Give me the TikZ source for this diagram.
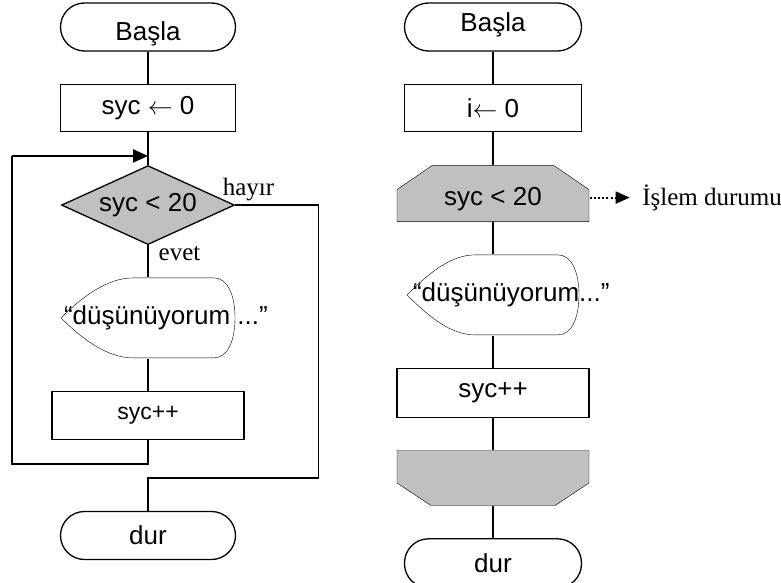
\documentclass[tikz,border=0pt]{standalone}
\usepackage{fontspec}
\setmainfont{Liberation Sans}
\newfontfamily\lblfont{Liberation Serif}
\definecolor{flowGray}{HTML}{C0C0C0}
\usetikzlibrary{shapes.geometric, arrows.meta, positioning, calc, backgrounds}

\begin{document}
\begin{tikzpicture}[
  x=1pt, y=1pt, node distance=32pt, line width=1.3pt,
  every node/.style={inner sep=0pt, font=\fontsize{26}{30}\selectfont},
  termbox/.style={draw, rounded corners=24pt, minimum width=175pt, minimum height=48pt},
  procbox/.style={draw, minimum width=175pt, minimum height=47pt},
  decbox/.style={draw, diamond, aspect=2.2, fill=flowGray, minimum width=173pt, minimum height=79pt},
  showbox/.style={minimum width=174pt, minimum height=80pt},
  limbox/.style={minimum width=192pt, minimum height=56pt},
  arr/.style={-{Triangle[length=15pt, width=13pt]}, line width=2.2pt},
  dotarr/.style={-{Triangle[length=14pt, width=12pt]}, line width=2pt, dash pattern=on 2pt off 2.2pt},
  lbl/.style={font=\lblfont\fontsize{25}{30}\selectfont}]

  \useasboundingbox (0,0) rectangle (781,-583);

  % left chart
  \node[termbox] (lstart) at (148,-27) {\raisebox{-14pt}[0pt][0pt]{Başla}};
  \node[procbox, below=of lstart] (linit) {syc $\leftarrow$ 0};
  \node[decbox, below=33pt of linit] (lcond) {syc < 20};
  \node[showbox, below=of lcond] (lshow) {\makebox[174pt][l]{\hspace{3pt}“düşünüyorum ...”}};
  \node[procbox, minimum width=192pt, minimum height=48pt, below=of lshow, font=\fontsize{23}{28}\selectfont] (linc) {syc++};
  \node[termbox, below=71pt of linc] (lend) {dur};

  % right chart
  \node[termbox, minimum width=177pt] (rstart) at (493,-27) {\raisebox{-5pt}[0pt][0pt]{Başla}};
  \node[procbox, minimum width=177pt, below=of rstart] (rinit) {i$\leftarrow$ 0};
  \node[limbox, below=33pt of rinit] (rcond) {\raisebox{-12pt}[0pt][0pt]{syc < 20}};
  \node[showbox, minimum width=172pt, below=of rcond] (rshow) {\makebox[172pt][l]{\hspace{6pt}“düşünüyorum...”}};
  \node[procbox, minimum width=192pt, minimum height=49pt, below=of rshow] (rinc) {syc++};
  \node[limbox, minimum height=55pt, below=of rinc] (rlim) {};
  \node[termbox, minimum width=177pt, minimum height=49pt, below=of rlim] (rend) {dur};

  \begin{scope}[on background layer]
    \draw[shift={(lshow.center)}] (-87,0) .. controls (-65,22) and (-40,40) .. (-15,40) -- (66,40)
      .. controls (80,40) and (87,22) .. (87,0) .. controls (87,-22) and (80,-40) .. (66,-40)
      -- (-15,-40) .. controls (-40,-40) and (-65,-22) .. cycle;
    \draw[shift={(rshow.center)}] (-86,0) .. controls (-64,22) and (-42,40) .. (-18,40) -- (65,40)
      .. controls (79,40) and (86,22) .. (86,0) .. controls (86,-22) and (79,-40) .. (65,-40)
      -- (-18,-40) .. controls (-42,-40) and (-64,-22) .. cycle;
    \draw[fill=flowGray, shift={(rcond.center)}] (-96,-28) -- (-96,4) -- (-61,28) -- (61,28)
      -- (96,4) -- (96,-28) -- cycle;
    \draw[fill=flowGray, shift={(rlim.center)}] (-96,27.5) -- (96,27.5) -- (96,-5) -- (62,-27.5)
      -- (-62,-27.5) -- (-96,-5) -- cycle;
  \end{scope}

  \draw (lstart) -- (linit);
  \draw (linit) -- (lcond);
  \draw (lcond) -- (lshow);
  \draw (lshow) -- (linc);

  % loop back and exit
  \coordinate (ljoin) at ($(lcond.north)+(0,9)$);
  \coordinate (lback) at ($(lcond.north)+(-136,9)$);
  \draw (linc.south) -- ++(0,-24) -| (lback);
  \draw[arr] (lback) -- (ljoin);
  \draw (lcond.east) -- ++(83,0) |- ($(lend.north)+(0,33)$) -- (lend.north);
  \node[lbl, anchor=base west] (lno) at ($(lcond.east)+(-13,10)$) {hayır};
  \node[lbl, anchor=base west] (lyes) at ($(lcond.south)+(10,-15)$) {evet};

  \draw (rstart) -- (rinit);
  \draw (rinit) -- (rcond);
  \draw (rcond) -- (rshow);
  \draw (rshow) -- (rinc);
  \draw (rinc) -- (rlim);
  \draw (rlim) -- (rend);

  \node[lbl, anchor=west, inner xsep=12pt] (rstate) at ($(rcond.east)+(40,-4)$) {İşlem durumu};
  \draw[dotarr] (rstate.west -| rcond.east) -- (rstate.west);
\end{tikzpicture}
\end{document}
